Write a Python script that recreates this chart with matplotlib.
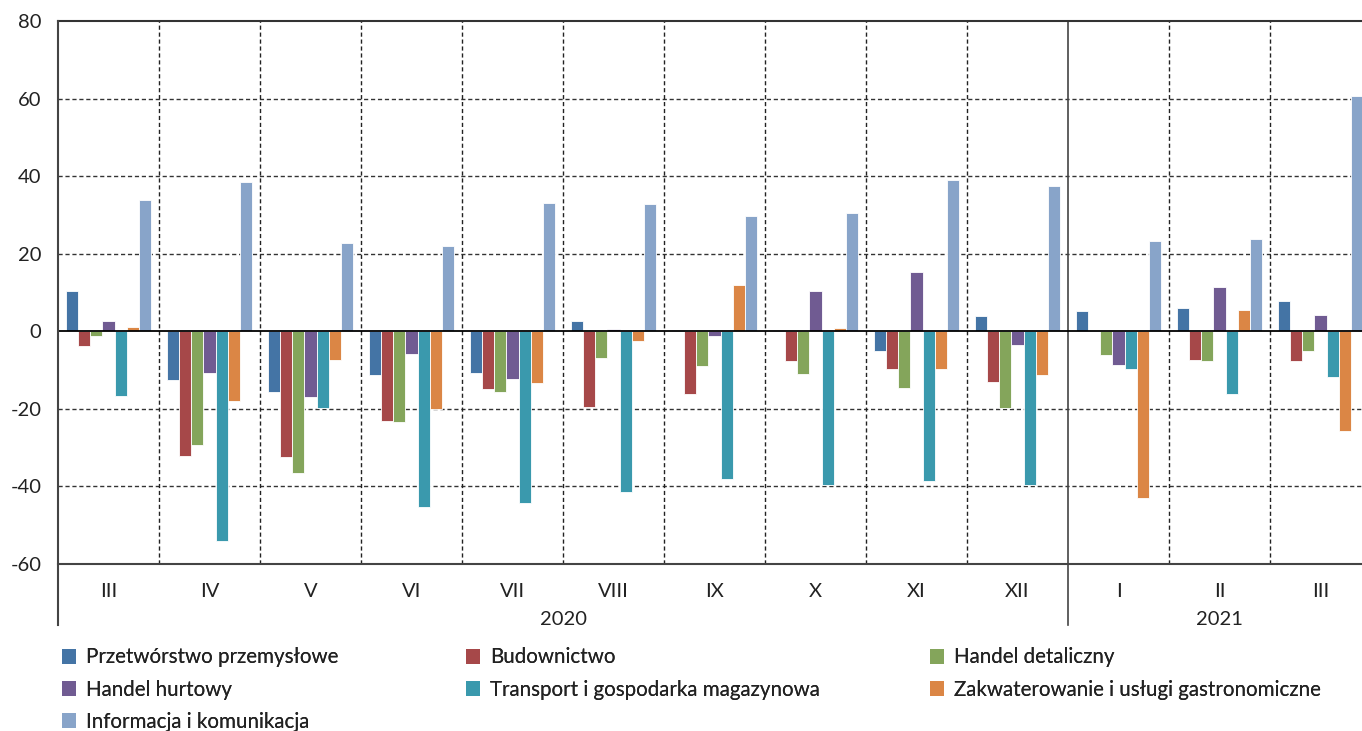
import numpy as np
import matplotlib.pyplot as plt
from matplotlib.patches import Patch

plt.rcParams['font.family'] = ['Lato', 'DejaVu Sans']
plt.rcParams['axes.unicode_minus'] = False

months = ['III', 'IV', 'V', 'VI', 'VII', 'VIII', 'IX', 'X', 'XI', 'XII', 'I', 'II', 'III']
years = ['2020', '2021']

series = [
    'Przetwórstwo przemysłowe',
    'Budownictwo',
    'Handel detaliczny',
    'Handel hurtowy',
    'Transport i gospodarka magazynowa',
    'Zakwaterowanie i usługi gastronomiczne',
    'Informacja i komunikacja',
]

przetworstwo = [10.3, -12.5, -15.6, -11.2, -10.7, 2.6, 0.4, 0.3, -5.0, 3.9, 5.2, 6.1, 7.9]
budownictwo = [-3.8, -32.1, -32.5, -23.2, -15.0, -19.5, -16.2, -7.6, -9.8, -13.2, 0.2, -7.4, -7.6]
detaliczny = [-1.1, -29.2, -36.6, -23.4, -15.6, -6.9, -8.9, -11.1, -14.7, -19.8, -6.1, -7.6, -5.1]
hurtowy = [2.6, -10.8, -17.0, -5.9, -12.3, 0.6, -1.1, 10.3, 15.2, -3.5, -8.7, 11.4, 4.1]
transport = [-16.8, -54.0, -19.7, -45.2, -44.4, -41.5, -38.0, -39.6, -38.7, -39.7, -9.6, -16.1, -11.7]
zakwaterowanie = [1.0, -18.1, -7.4, -20.0, -13.4, -2.6, 12.0, 0.9, -9.7, -11.3, -43.0, 5.5, -25.8]
informacja = [33.8, 38.5, 22.8, 22.0, 33.2, 32.8, 29.8, 30.5, 39.0, 37.5, 23.2, 23.7, 60.7]

values = [przetworstwo, budownictwo, detaliczny, hurtowy, transport, zakwaterowanie, informacja]
colors = ['#4474a5', '#a64849', '#84a55b', '#705b92', '#3a99ad', '#db8645', '#88a4c9']

fig = plt.figure(figsize=(13.62, 7.31), dpi=100)
# axes runs a little past the right edge, as in the original
ax = fig.add_axes([58 / 1362, 167 / 731, 1313 / 1362, 543 / 731])

x = np.arange(len(months))
w = 0.119
for i, (vals, c) in enumerate(zip(values, colors)):
    ax.bar(x + (i - 3) * w, vals, width=w, color=c, edgecolor='white',
           linewidth=0.6, zorder=3)

ax.set_xlim(-0.5, len(months) - 0.5)
ax.set_ylim(-60, 80)
ax.set_yticks(range(-60, 81, 20))
ax.tick_params(axis='y', length=0, pad=12, labelsize=14.5, colors='#222222')
ax.set_xticks(x)
ax.set_xticklabels(months)
ax.tick_params(axis='x', length=0, pad=14, labelsize=14.5, colors='#222222')

for yv in [-40, -20, 20, 40, 60]:
    ax.axhline(yv, color='#333333', lw=1, ls=(0, (3, 2)), zorder=1)
ax.axhline(0, color='black', lw=1.3, zorder=4)

for k in range(len(months) - 1):
    if k == 9:
        ax.axvline(k + 0.5, ymin=-0.112, ymax=1, color='#444444', lw=1.2,
                   clip_on=False, zorder=2)
    else:
        ax.axvline(k + 0.5, color='#222222', lw=1, ls=(0, (3, 2)), zorder=1)
ax.axvline(-0.5, ymin=-0.112, ymax=1, color='#444444', lw=1.5, clip_on=False, zorder=5)

for s in ['left', 'right']:
    ax.spines[s].set_visible(False)
ax.spines['top'].set_color('#333333')
ax.spines['bottom'].set_color('#444444')
ax.spines['top'].set_linewidth(1.5)
ax.spines['bottom'].set_linewidth(1.5)

tr = ax.get_xaxis_transform()
ax.text(4.5, -0.102, years[0], transform=tr, ha='center', va='center',
        fontsize=14.5, color='#222222')
ax.text(11, -0.102, years[1], transform=tr, ha='center', va='center',
        fontsize=14.5, color='#222222')

# one legend per column so each column can sit where the original has it
columns = [[0, 3, 6], [1, 4], [2, 5]]
col_x = [54, 458, 922]
for idx, cx in zip(columns, col_x):
    handles = [Patch(facecolor=colors[i], label=series[i]) for i in idx]
    leg = fig.legend(handles=handles, ncol=1, loc='upper left',
                     bbox_to_anchor=(cx / 1362, 1 - 639 / 731), frameon=False,
                     fontsize=14.8, handlelength=0.65, handleheight=0.75,
                     handletextpad=0.5, labelspacing=0.6,
                     borderaxespad=0, labelcolor='#222222')
    fig.add_artist(leg)

fig.savefig('out.png', dpi=100)
